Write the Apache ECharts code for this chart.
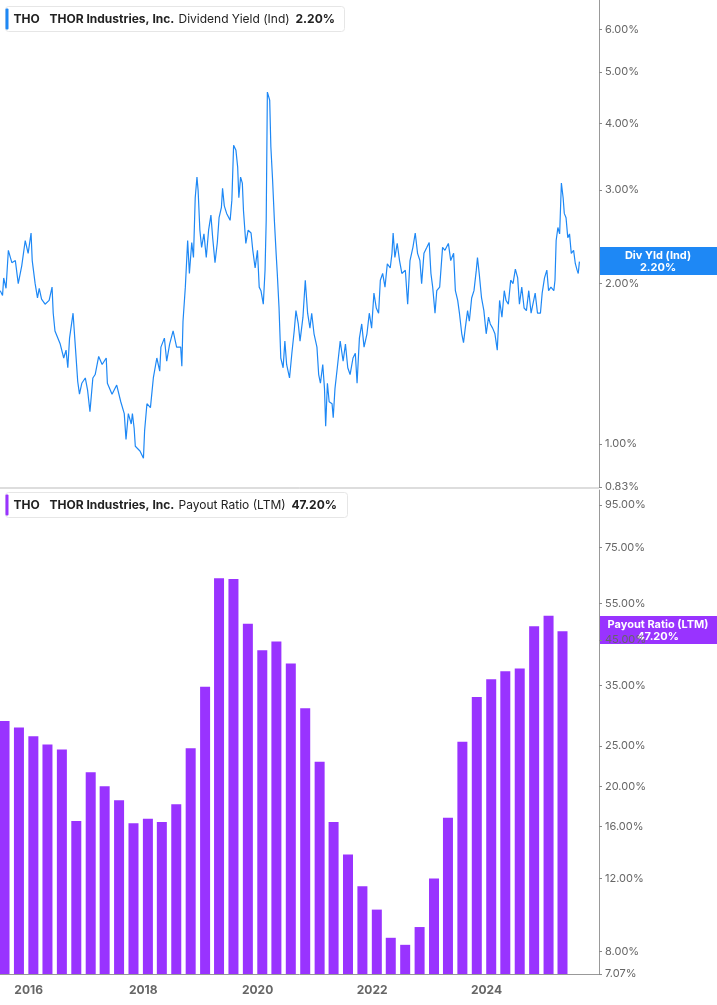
<!DOCTYPE html>
<html><head><meta charset="utf-8">
<script src="https://cdn.jsdelivr.net/npm/echarts@6/dist/echarts.min.js"></script>
<style>html,body{margin:0;padding:0;background:#fff}#c{width:717px;height:1005px}</style>
</head><body><div id="c"></div>
<script>
// Dividend yield (%) — decimal-year dates and values
const yieldDates = [2015.59,2015.63,2015.65,2015.69,2015.73,2015.79,2015.85,2015.90,2015.96,2016.02,2016.07,2016.12,2016.14,2016.19,2016.23,2016.26,2016.30,2016.36,2016.43,2016.48,2016.50,2016.53,2016.62,2016.68,2016.72,2016.75,2016.78,2016.84,2016.88,2016.92,2016.95,2016.99,2017.05,2017.09,2017.13,2017.18,2017.22,2017.28,2017.34,2017.41,2017.43,2017.51,2017.59,2017.66,2017.72,2017.75,2017.79,2017.84,2017.86,2017.89,2017.91,2017.99,2018.05,2018.07,2018.11,2018.17,2018.22,2018.28,2018.33,2018.35,2018.41,2018.45,2018.50,2018.56,2018.62,2018.69,2018.71,2018.73,2018.77,2018.81,2018.84,2018.88,2018.91,2018.94,2018.97,2018.99,2019.02,2019.05,2019.09,2019.13,2019.17,2019.21,2019.24,2019.28,2019.32,2019.35,2019.39,2019.41,2019.44,2019.48,2019.54,2019.57,2019.60,2019.64,2019.67,2019.69,2019.72,2019.75,2019.77,2019.81,2019.85,2019.90,2019.93,2019.97,2020.01,2020.04,2020.07,2020.11,2020.14,2020.16,2020.18,2020.22,2020.24,2020.27,2020.30,2020.33,2020.35,2020.38,2020.41,2020.45,2020.48,2020.51,2020.56,2020.60,2020.64,2020.67,2020.71,2020.74,2020.79,2020.83,2020.87,2020.91,2020.94,2020.98,2021.03,2021.06,2021.09,2021.13,2021.16,2021.18,2021.21,2021.24,2021.29,2021.31,2021.34,2021.38,2021.43,2021.48,2021.52,2021.56,2021.60,2021.65,2021.69,2021.72,2021.76,2021.80,2021.84,2021.89,2021.93,2021.97,2022.01,2022.05,2022.09,2022.12,2022.16,2022.20,2022.24,2022.29,2022.32,2022.34,2022.37,2022.41,2022.45,2022.49,2022.55,2022.59,2022.63,2022.68,2022.72,2022.76,2022.80,2022.83,2022.87,2022.92,2022.96,2022.99,2023.02,2023.06,2023.09,2023.14,2023.19,2023.23,2023.29,2023.33,2023.38,2023.41,2023.45,2023.48,2023.52,2023.55,2023.58,2023.62,2023.65,2023.69,2023.73,2023.77,2023.79,2023.82,2023.86,2023.90,2023.94,2023.98,2024.01,2024.05,2024.09,2024.13,2024.17,2024.21,2024.25,2024.28,2024.32,2024.36,2024.40,2024.44,2024.48,2024.51,2024.55,2024.59,2024.63,2024.67,2024.71,2024.74,2024.78,2024.82,2024.87,2024.90,2024.94,2024.98,2025.01,2025.05,2025.10,2025.12,2025.14,2025.17,2025.20,2025.23,2025.26,2025.28,2025.31,2025.34,2025.37,2025.40,2025.44,2025.47,2025.50,2025.52,2025.54];
const yieldValues = [1.94,1.90,2.05,1.96,2.31,2.19,2.21,2.00,2.16,2.41,2.28,2.49,2.21,2.00,1.88,1.96,1.87,1.83,1.86,1.97,1.76,1.63,1.54,1.45,1.50,1.39,1.58,1.76,1.52,1.31,1.24,1.30,1.33,1.26,1.15,1.33,1.35,1.46,1.41,1.45,1.30,1.24,1.29,1.20,1.14,1.02,1.14,1.09,1.14,1.07,0.99,0.97,0.94,1.06,1.19,1.17,1.33,1.45,1.37,1.52,1.58,1.43,1.54,1.63,1.52,1.52,1.40,1.70,1.97,2.41,2.09,2.39,2.24,2.90,3.17,2.99,2.52,2.34,2.48,2.24,2.52,2.69,2.44,2.19,2.39,2.66,2.78,3.02,2.80,2.71,2.63,2.87,3.64,3.56,3.31,2.90,3.17,3.09,2.74,2.38,2.52,2.49,2.31,2.14,2.31,1.97,1.94,1.83,2.12,2.63,4.58,4.42,3.61,3.12,2.63,2.28,2.09,1.80,1.45,1.39,1.56,1.41,1.33,1.48,1.63,1.78,1.68,1.56,1.73,2.03,1.76,1.65,1.76,1.61,1.52,1.35,1.30,1.41,1.27,1.08,1.30,1.20,1.19,1.12,1.27,1.39,1.56,1.43,1.54,1.39,1.35,1.45,1.48,1.30,1.58,1.68,1.52,1.61,1.76,1.65,1.92,1.80,1.76,2.03,2.09,1.97,2.18,2.14,2.28,2.49,2.24,2.38,2.21,2.09,2.12,1.83,2.21,2.34,2.49,2.28,2.21,2.00,2.28,2.34,2.39,2.09,1.97,1.76,1.94,1.97,2.34,2.31,2.38,2.21,2.28,1.94,1.86,1.76,1.61,1.55,1.65,1.78,1.70,1.88,1.94,2.12,2.24,2.09,1.88,1.78,1.61,1.73,1.68,1.65,1.61,1.50,1.86,1.73,1.94,1.86,1.83,2.03,2.00,2.13,2.05,1.83,1.97,1.80,1.78,1.94,1.76,1.76,1.92,1.76,1.76,1.92,2.05,2.12,1.94,1.97,1.94,2.03,2.41,2.55,2.48,3.09,2.90,2.71,2.66,2.44,2.48,2.28,2.31,2.18,2.12,2.09,2.20];

// Payout ratio (LTM, %) — quarterly
const payoutDates = ['2015-07-31','2015-10-31','2016-01-31','2016-04-30','2016-07-31','2016-10-31','2017-01-31','2017-04-30','2017-07-31','2017-10-31','2018-01-31','2018-04-30','2018-07-31','2018-10-31','2019-01-31','2019-04-30','2019-07-31','2019-10-31','2020-01-31','2020-04-30','2020-07-31','2020-10-31','2021-01-31','2021-04-30','2021-07-31','2021-10-31','2022-01-31','2022-04-30','2022-07-31','2022-10-31','2023-01-31','2023-04-30','2023-07-31','2023-10-31','2024-01-31','2024-04-30','2024-07-31','2024-10-31','2025-01-31','2025-04-30'];
const payoutValues = [28.7,27.7,26.4,25.2,24.5,16.5,21.6,20.0,18.5,16.3,16.7,16.4,18.1,24.7,34.7,63.3,63.0,49.2,42.5,44.6,39.5,30.8,22.9,16.4,13.7,11.5,10.1,8.64,8.31,9.17,12.0,16.8,25.6,32.8,36.2,37.8,38.4,48.5,51.4,47.2];

const yieldTicks = [0.83,1,2,3,4,5,6];
const payoutTicks = [7.07,8,12,16,20,25,35,45,55,75,95];
const yearTicks = [2016,2018,2020,2022,2024];

const toTs = y => { const yr = Math.floor(y); const s = Date.UTC(yr,0,1), e = Date.UTC(yr+1,0,1); return s + (y-yr)*(e-s); };
const yieldData = yieldDates.map((d,i)=>[toTs(d), yieldValues[i]]);
const payoutData = payoutDates.map((d,i)=>[d, payoutValues[i]]);

const FONT = 'Inter';
const xMin = Date.UTC(2015,7,3), xMax = Date.UTC(2025,10,17);
const yAxisCommon = {
  type:'log', logBase:10, position:'right',
  axisLine:{show:true,lineStyle:{color:'#999',width:1}},
  splitLine:{show:false},
  axisTick:{show:true,length:3,lineStyle:{color:'#888'}},
  axisLabel:{color:'#666',fontSize:11,fontFamily:FONT,margin:6,formatter:v=>(+v).toFixed(2)+'%'}
};

const chart = echarts.init(document.getElementById('c'));
const legend = (top, color, label, value, width, valX) => ({
  type:'group', left:5, top:top, z:100, children:[
    {type:'rect', shape:{x:0,y:0,width:width,height:25,r:3}, style:{fill:'#fff',stroke:'#e6e6e6',lineWidth:1}},
    {type:'rect', shape:{x:0,y:2,width:3,height:21,r:1}, style:{fill:color}},
    {type:'text', x:8, y:7, style:{text:'THO', font:'bold 12px '+FONT, fill:'#222'}},
    {type:'text', x:44, y:7, style:{text:'THOR Industries, Inc.', font:'bold 12px '+FONT, fill:'#222'}},
    {type:'text', x:173, y:7, style:{text:label, font:'12px '+FONT, fill:'#222'}},
    {type:'text', x:valX, y:7, style:{text:value, font:'bold 12px '+FONT, fill:'#222'}}
  ]});
const badge = (top, color, l1, l2) => ({
  type:'group', left:599, top:top, z:100, children:[
    {type:'rect', shape:{x:0,y:0,width:118,height:28}, style:{fill:color}},
    {type:'text', x:59, y:3, style:{text:l1, font:'bold 11px '+FONT, fill:'#fff', align:'center'}},
    {type:'text', x:59, y:15, style:{text:l2, font:'bold 11px '+FONT, fill:'#fff', align:'center'}}
  ]});

chart.setOption({
  animation:false,
  textStyle:{fontFamily:FONT},
  grid:[
    {left:0,right:118,top:0,height:487},
    {left:0,right:118,top:490,height:484}
  ],
  xAxis:[
    {type:'time',gridIndex:0,min:xMin,max:xMax,show:false},
    {type:'time',gridIndex:1,min:xMin,max:xMax,splitNumber:10,
     axisLine:{show:true,lineStyle:{color:'#999'}},
     splitLine:{show:false},
     axisTick:{show:false},
     axisLabel:{color:'#666',fontSize:12,fontWeight:'bold',fontFamily:FONT,margin:10,hideOverlap:false,
       formatter:v=>{const d=new Date(v);const y=d.getUTCFullYear();
         return (d.getUTCMonth()===0 && d.getUTCDate()===1 && yearTicks.indexOf(y)>=0)?String(y):'';}}}
  ],
  yAxis:[
    Object.assign({},yAxisCommon,{gridIndex:0,min:0.83,max:6.82,
      axisTick:Object.assign({},yAxisCommon.axisTick,{customValues:yieldTicks}),
      axisLabel:Object.assign({},yAxisCommon.axisLabel,{customValues:yieldTicks})}),
    Object.assign({},yAxisCommon,{gridIndex:1,min:7.07,max:103.2,
      axisTick:Object.assign({},yAxisCommon.axisTick,{customValues:payoutTicks}),
      axisLabel:Object.assign({},yAxisCommon.axisLabel,{customValues:payoutTicks})})
  ],
  series:[
    {type:'line',xAxisIndex:0,yAxisIndex:0,data:yieldData,showSymbol:false,
     lineStyle:{color:'#1e88f5',width:1.2},itemStyle:{color:'#1e88f5'}},
    {type:'bar',xAxisIndex:1,yAxisIndex:1,data:payoutData,barWidth:10,clip:true,
     itemStyle:{color:'#9933ff'}}
  ],
  graphic:[
    {type:'line',z:50,shape:{x1:0,y1:488,x2:599,y2:488},style:{stroke:'#bbb',lineWidth:1}},
    legend(6,'#1e88f5','Dividend Yield (Ind)','2.20%',339,290),
    legend(492,'#9933ff','Payout Ratio (LTM)','47.20%',342,286),
    badge(247,'#1e88f5','Div Yld (Ind)','2.20%'),
    badge(616,'#9933ff','Payout Ratio (LTM)','47.20%')
  ]
});
</script></body></html>
